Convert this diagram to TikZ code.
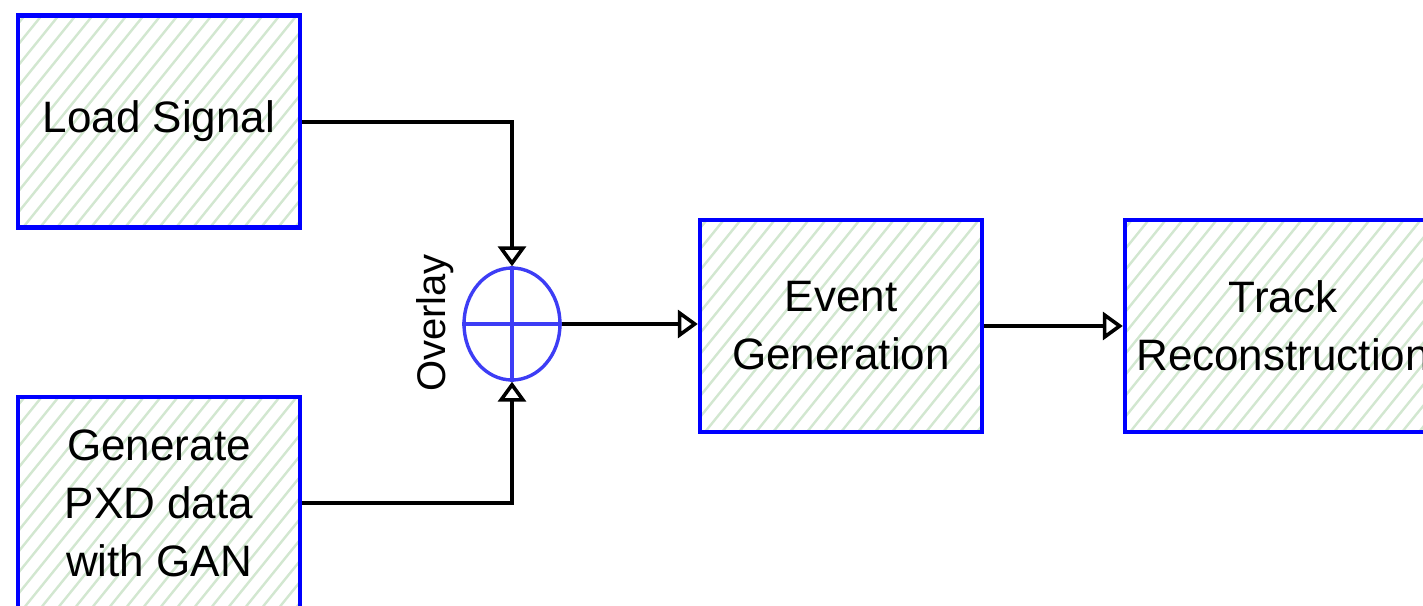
\documentclass[tikz,border=0pt]{standalone}
\usepackage{fontspec}
\setmainfont{Liberation Sans}
\usetikzlibrary{arrows.meta,shapes.geometric,calc}
\definecolor{boxblue}{HTML}{0000FF}
\definecolor{hatchc}{HTML}{D2E7D0}
\definecolor{ovblue}{HTML}{3D3DF5}
\begin{document}
\begin{tikzpicture}[x=0.5pt,y=-0.5pt,
  stepbox/.style={draw=boxblue, line width=2.2pt, minimum width=141pt, minimum height=106pt,
    align=center, font=\fontsize{22}{29}\selectfont, inner sep=0pt,
    path picture={\foreach \k in {-34,...,22}{\draw[hatchc, line width=1.2pt]
      ($(path picture bounding box.south)+(\k*8.5pt,0)$) -- ++(51:220pt);}}},
  conn/.style={draw=black, line width=2pt, -{Triangle[open,length=10pt,width=14pt,line width=1.8pt]}},
  ovstyle/.style={ellipse, draw=ovblue, line width=1.7pt, minimum width=48pt, minimum height=56pt, inner sep=0pt},
]
\fill[white] (0,0) rectangle (1423,605);
\useasboundingbox (0,0) rectangle (1423,605);

\node[stepbox] (load) at (159,121.5) {Load Signal};
\node[stepbox] (gen) at (159,503) {Generate\\PXD data\\with GAN};
\node[stepbox] (event) at (841,326) {Event\\Generation};
\node[stepbox, minimum width=158pt] (track) at (1283,326) {Track\\Reconstruction};

\node[ovstyle] (ov) at (512,324) {};
\draw[ovblue, line width=1.7pt] (ov.north) -- (ov.south) (ov.west) -- (ov.east);
\node[rotate=90, font=\fontsize{20}{24}\selectfont] (ovl) at (435,323) {Overlay};

\draw[conn] (load.east) -| (ov.north);
\draw[conn] (gen.east) -| (ov.south);
\draw[conn] (ov.east) -- (ov.east -| event.west);
\draw[conn] (event.east) -- (track.west);
\end{tikzpicture}
\end{document}
